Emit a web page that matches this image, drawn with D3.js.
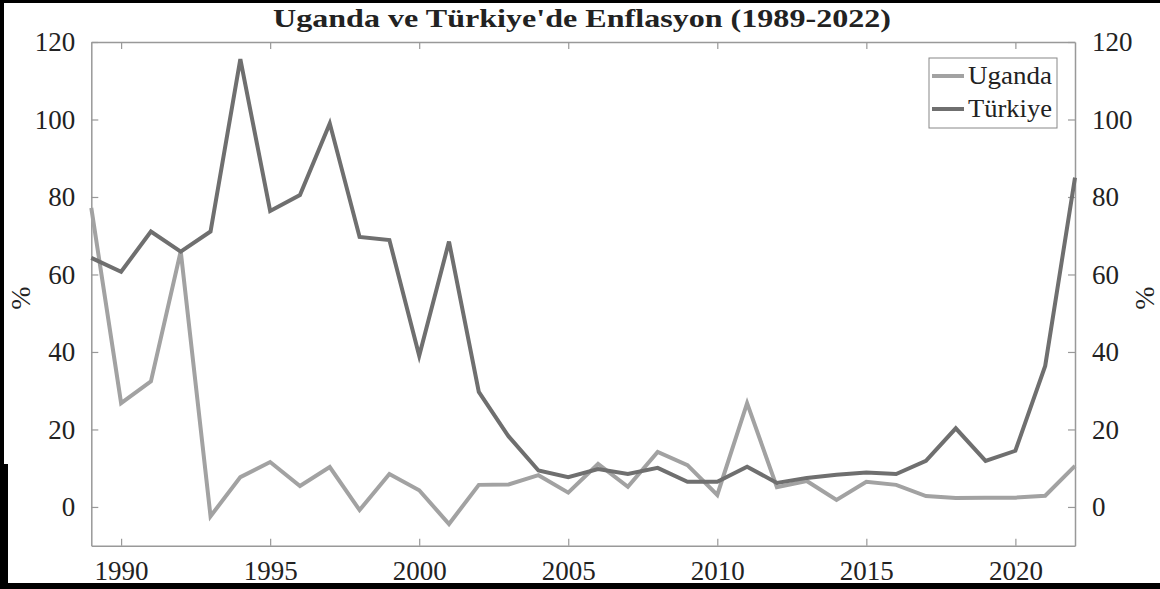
<!DOCTYPE html>
<html><head><meta charset="utf-8">
<script src="https://cdn.jsdelivr.net/npm/d3@7"></script>
<style>
body{margin:0;background:#fff;}
svg{display:block;}
</style></head>
<body>
<script>
const years = d3.range(1989, 2023);
const uganda = [77.2, 26.8, 32.4, 66.0, -2.4, 7.7, 11.6, 5.4, 10.3, -0.8, 8.5, 4.3, -4.4, 5.7, 5.8, 8.2, 3.7, 11.1, 5.2, 14.2, 10.8, 3.1, 26.8, 5.1, 6.7, 1.8, 6.5, 5.7, 2.8, 2.3, 2.4, 2.4, 2.9, 10.6];
const turkiye = [64.3, 60.7, 71.1, 65.9, 71.1, 115.6, 76.4, 80.5, 99.0, 69.7, 68.9, 39.0, 68.5, 29.7, 18.2, 9.4, 7.7, 9.8, 8.5, 10.1, 6.5, 6.5, 10.4, 6.2, 7.5, 8.3, 8.9, 8.5, 11.9, 20.3, 11.9, 14.5, 36.4, 85.0];
const xTicks = [1990, 1995, 2000, 2005, 2010, 2015, 2020];
const yTicks = [0, 20, 40, 60, 80, 100, 120];
const seriesNames = ["Uganda", "Türkiye"];
const seriesColors = ["#a2a2a2", "#6f6f6f"];
const title = "Uganda ve Türkiye'de Enflasyon (1989-2022)";

const FONT = "'Liberation Serif', 'DejaVu Serif', serif";
const W = 1160, H = 589;
const L = 91.3, R = 1075, T = 42, B = 545.7;
const svg = d3.select("body").append("svg").attr("width", W).attr("height", H)
  .attr("font-family", FONT);
svg.append("rect").attr("width", W).attr("height", H).attr("fill", "#fff");

const x = d3.scaleLinear().domain([1989, 2022]).range([L, R]);
const y = d3.scaleLinear().domain([-10, 120]).range([B, T]);
const axisColor = "#999";

function styleAxis(g) {
  g.attr("font-family", FONT).attr("font-size", 27);
  g.select(".domain").attr("stroke", axisColor).attr("stroke-width", 1.5);
  g.selectAll(".tick line").attr("stroke", axisColor).attr("stroke-width", 1.2);
  g.selectAll(".tick text").style("font-family", FONT).style("font-size", "27px").attr("fill", "#222");
}
svg.append("g").attr("transform", `translate(0,${B})`)
  .call(d3.axisBottom(x).tickValues(xTicks).tickFormat(d3.format("d")).tickSizeInner(-7).tickSizeOuter(0))
  .call(styleAxis).call(g => g.selectAll(".tick text").attr("dy", "0.71em").attr("y", 15));
svg.append("g").attr("transform", `translate(0,${T})`)
  .call(d3.axisTop(x).tickValues(xTicks).tickFormat("").tickSizeInner(-7).tickSizeOuter(0))
  .call(styleAxis);
svg.append("g").attr("transform", `translate(${L},0)`)
  .call(d3.axisLeft(y).tickValues(yTicks).tickSizeInner(-7).tickSizeOuter(0).tickPadding(16))
  .call(styleAxis);
svg.append("g").attr("transform", `translate(${R},0)`)
  .call(d3.axisRight(y).tickValues(yTicks).tickSizeInner(-7).tickSizeOuter(0).tickPadding(17))
  .call(styleAxis);

const line = d3.line().x((d, i) => x(years[i])).y(d => y(d));
[uganda, turkiye].forEach((s, k) => {
  svg.append("path").datum(s).attr("d", line)
    .attr("fill", "none").attr("stroke", seriesColors[k]).attr("stroke-width", 4)
    .attr("stroke-linejoin", "miter");
});

svg.append("text").attr("x", 582).attr("y", 27).attr("text-anchor", "middle")
  .style("font-family", FONT).style("font-size", "25px").style("font-weight", "bold").attr("fill", "#222")
  .attr("textLength", 618).attr("lengthAdjust", "spacingAndGlyphs").text(title);

svg.append("text").attr("transform", "translate(30,298) rotate(-90)").attr("text-anchor", "middle")
  .style("font-family", FONT).style("font-size", "28px").attr("fill", "#222").text("%");
svg.append("text").attr("transform", "translate(1154,298) rotate(-90)").attr("text-anchor", "middle")
  .style("font-family", FONT).style("font-size", "28px").attr("fill", "#222").text("%");

const lg = svg.append("g");
lg.append("rect").attr("x", 929).attr("y", 58).attr("width", 128).attr("height", 70)
  .attr("fill", "#fff").attr("stroke", "#888").attr("stroke-width", 1);
seriesNames.forEach((n, k) => {
  const yy = 76 + k * 33;
  lg.append("line").attr("x1", 932).attr("x2", 964).attr("y1", yy).attr("y2", yy)
    .attr("stroke", seriesColors[k]).attr("stroke-width", 4);
  lg.append("text").attr("x", 968).attr("y", yy + 8)
    .style("font-family", FONT).style("font-size", "25px").attr("fill", "#222")
    .attr("textLength", 84).attr("lengthAdjust", "spacingAndGlyphs").text(n);
});

svg.append("rect").attr("x", 0).attr("y", 0).attr("width", W).attr("height", 3).attr("fill", "#000");
svg.append("rect").attr("x", 0).attr("y", 0).attr("width", 4).attr("height", H).attr("fill", "#000");
svg.append("rect").attr("x", 0).attr("y", 464).attr("width", 8).attr("height", H - 464).attr("fill", "#000");
svg.append("rect").attr("x", 0).attr("y", 583).attr("width", W).attr("height", 6).attr("fill", "#000");
</script>
</body></html>
